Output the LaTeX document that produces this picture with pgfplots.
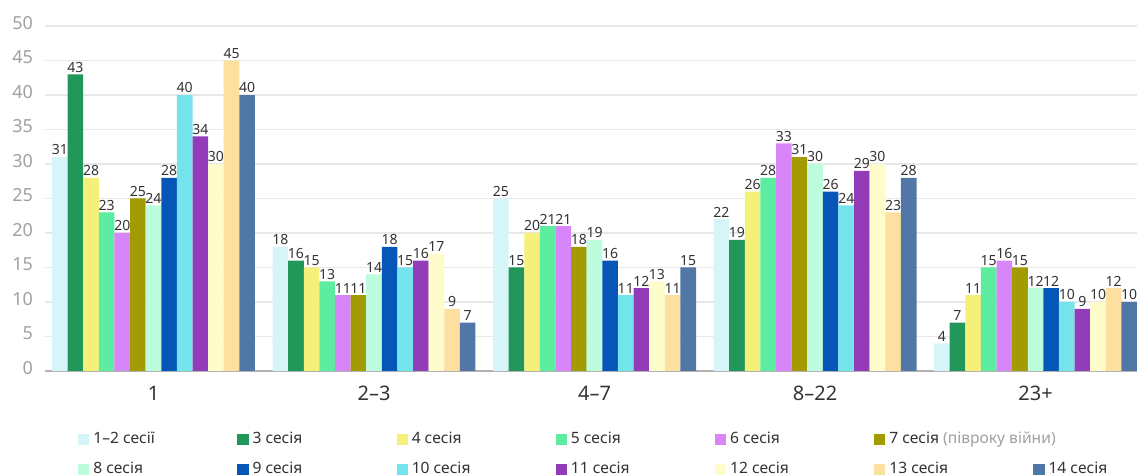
\documentclass[border=0pt]{standalone}
\usepackage{fontspec}
\setmainfont{Noto Sans}
\usepackage{pgfplots}
\usepackage{pgfplotstable}
\pgfplotsset{compat=1.18}

\definecolor{c1}{HTML}{D6F5F8}
\definecolor{c3}{HTML}{21985A}
\definecolor{c4}{HTML}{F5F07A}
\definecolor{c5}{HTML}{5CEDA0}
\definecolor{c6}{HTML}{D985FA}
\definecolor{c7}{HTML}{A39B02}
\definecolor{c8}{HTML}{BDFCDD}
\definecolor{c9}{HTML}{0656B8}
\definecolor{c10}{HTML}{73E4EB}
\definecolor{c11}{HTML}{923CB9}
\definecolor{c12}{HTML}{FFFCCC}
\definecolor{c13}{HTML}{FDDF9F}
\definecolor{c14}{HTML}{5077A5}
\definecolor{txt}{HTML}{333333}
\definecolor{tick}{HTML}{A0A0A0}

% rows: 1, 2-3, 4-7, 8-22, 23+
\pgfplotstableread{
x  s1 s3 s4 s5 s6 s7 s8 s9 s10 s11 s12 s13 s14
0  31 43 28 23 20 25 24 28 40  34  30  45  40
1  18 16 15 13 11 11 14 18 15  16  17  9   7
2  25 15 20 21 21 18 19 16 11  12  13  11  15
3  22 19 26 28 33 31 30 26 24  29  30  23  28
4  4  7  11 15 16 15 12 12 10  9   10  12  10
}\data

\newcommand{\lgbox}[1]{\makebox[70pt][l]{#1}}

\begin{document}
\begin{tikzpicture}
\useasboundingbox (-22.5pt,-52pt) rectangle (546pt,185.5pt);
\begin{axis}[
    at={(0,0)}, anchor=south west,
    scale only axis,
    width=546pt, height=172.5pt,
    ybar=0pt,
    bar width=0.0708,
    xmin=-0.492, xmax=4.46,
    ymin=0, ymax=50,
    ytick={0,5,...,50},
    xtick={0,1,2,3,4},
    xticklabels={1,2–3,4–7,8–22,23+},
    major tick length=0pt,
    axis lines=left,
    x axis line style={-, draw=gray!60, line width=1pt},
    y axis line style={draw=none},
    ymajorgrids,
    grid style={draw=gray!18, line width=0.6pt},
    /pgf/number format/assume math mode=true,
    yticklabel style={font=\fontsize{9}{10}\selectfont, text=tick, xshift=-2.5pt, yshift=1.5pt},
    xticklabel style={font=\fontsize{10}{11}\selectfont, text=txt, yshift=-4pt},
    nodes near coords,
    every node near coord/.append style={font=\fontsize{7}{8}\selectfont, text=txt, inner sep=0.8pt},
    clip=false,
    legend columns=7,
    legend style={at={(0.03,-0.165)}, anchor=north west, draw=none,
        font=\fontsize{7.8}{9}\selectfont, text=txt,
        /tikz/every even column/.append style={column sep=0pt},
        row sep=3.5pt, inner sep=0pt},
    legend cell align=left,
    legend image code/.code={\fill[#1, draw=none] (0pt,-2.8pt) rectangle (5.6pt,2.8pt);},
]
\addplot[fill=c1, draw=none] table[x=x, y=s1] {\data};
\addlegendentry{\lgbox{1–2 сесії}}
\addplot[fill=c3, draw=none] table[x=x, y=s3] {\data};
\addlegendentry{\lgbox{3 сесія}}
\addplot[fill=c4, draw=none] table[x=x, y=s4] {\data};
\addlegendentry{\lgbox{4 сесія}}
\addplot[fill=c5, draw=none] table[x=x, y=s5] {\data};
\addlegendentry{\lgbox{5 сесія}}
\addplot[fill=c6, draw=none] table[x=x, y=s6] {\data};
\addlegendentry{\lgbox{6 сесія}}
\addplot[fill=c7, draw=none] table[x=x, y=s7] {\data};
\addlegendentry{\lgbox{7 сесія \textcolor{tick}{(півроку війни)}}}
\addlegendimage{empty legend}
\addlegendentry{}
\addplot[fill=c8, draw=none] table[x=x, y=s8] {\data};
\addlegendentry{\lgbox{8 сесія}}
\addplot[fill=c9, draw=none] table[x=x, y=s9] {\data};
\addlegendentry{\lgbox{9 сесія}}
\addplot[fill=c10, draw=none] table[x=x, y=s10] {\data};
\addlegendentry{\lgbox{10 сесія}}
\addplot[fill=c11, draw=none] table[x=x, y=s11] {\data};
\addlegendentry{\lgbox{11 сесія}}
\addplot[fill=c12, draw=none] table[x=x, y=s12] {\data};
\addlegendentry{\lgbox{12 сесія}}
\addplot[fill=c13, draw=none] table[x=x, y=s13] {\data};
\addlegendentry{\lgbox{13 сесія}}
\addplot[fill=c14, draw=none] table[x=x, y=s14] {\data};
\addlegendentry{\lgbox{14 сесія}}
\end{axis}
\end{tikzpicture}
\end{document}
